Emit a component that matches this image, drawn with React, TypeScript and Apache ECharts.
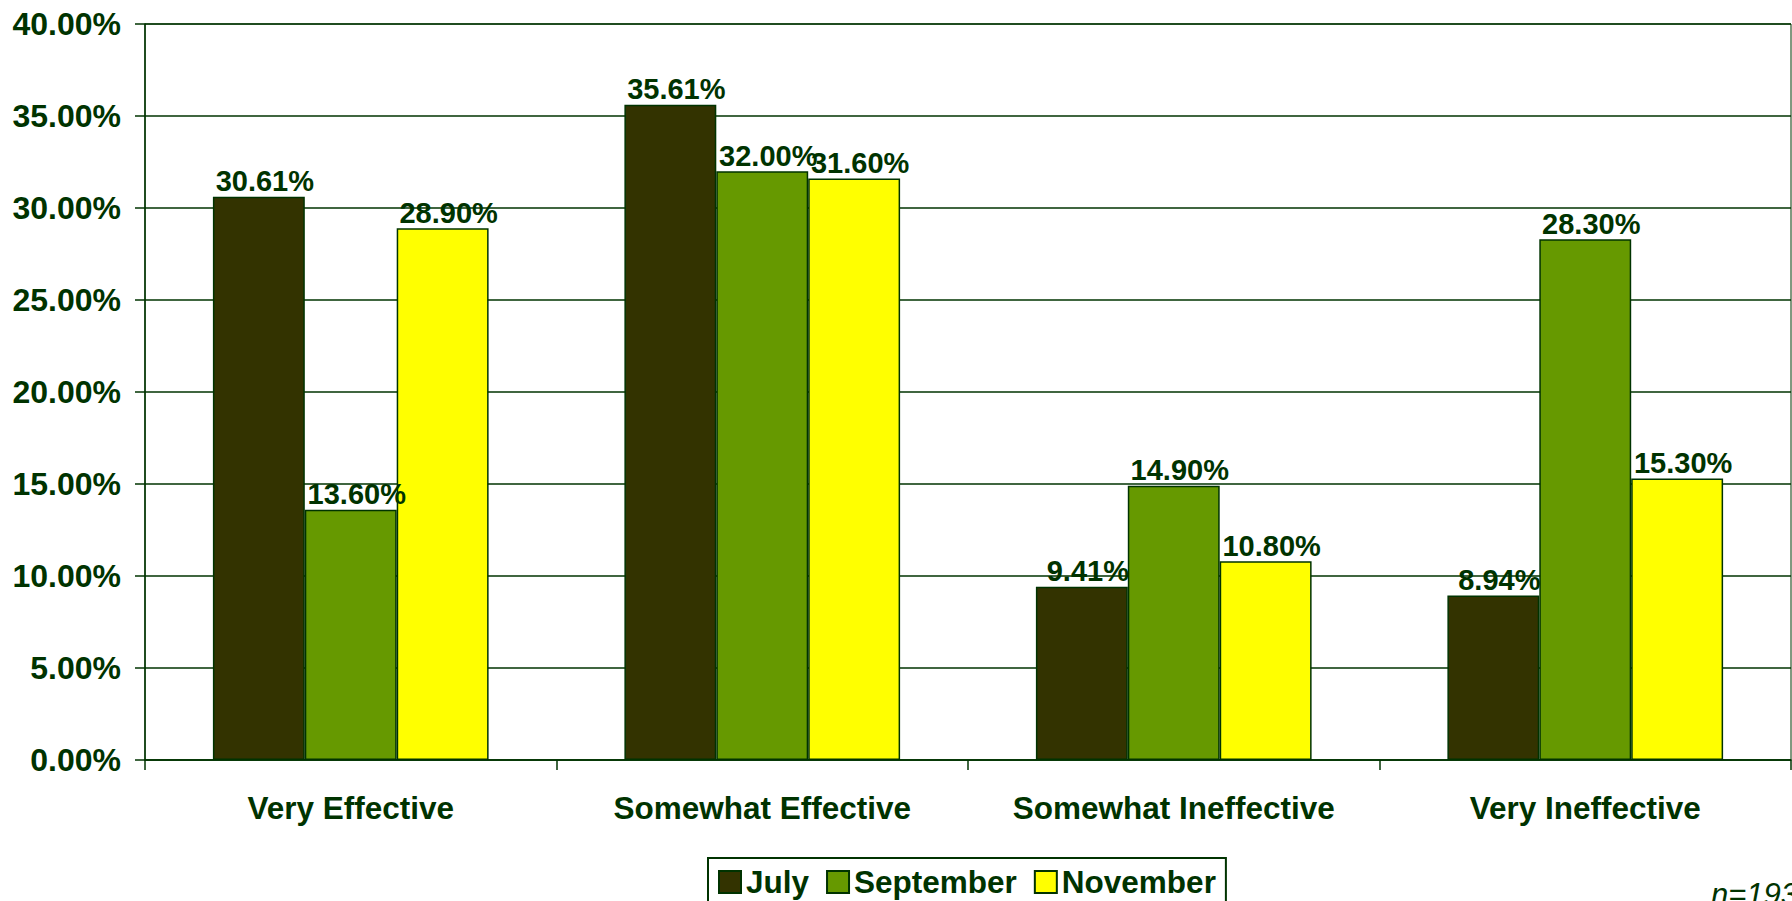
import React, { useEffect, useRef } from "react";
import * as echarts from "echarts";

const categories = ["Very Effective", "Somewhat Effective", "Somewhat Ineffective", "Very Ineffective"];
const july = [30.61, 35.61, 9.41, 8.94];
const september = [13.6, 32.0, 14.9, 28.3];
const november = [28.9, 31.6, 10.8, 15.3];
const seriesNames = ["July", "September", "November"];
const seriesColors = ["#333300", "#669900", "#FFFF00"];
const yTicks = { min: 0, max: 40, interval: 5 };
const note = "n=193";

const TEXT = "#003300";
const FONT = "'Liberation Sans', Arial, Helvetica, sans-serif";

export default function App() {
  const ref = useRef<HTMLDivElement>(null);
  useEffect(() => {
    if (!ref.current) return;
    const chart = echarts.init(ref.current, undefined, { renderer: "svg" });
    const data = [july, september, november];
    chart.setOption({
      animation: false,
      backgroundColor: "#ffffff",
      textStyle: { fontFamily: FONT },
      grid: {
        left: 145,
        right: 1,
        top: 24,
        bottom: 141,
        show: true,
        borderColor: TEXT,
        borderWidth: 1,
        containLabel: false,
      },
      legend: {
        left: 708,
        top: 858,
        orient: "horizontal",
        padding: [8, 10, 10, 10],
        borderColor: TEXT,
        borderWidth: 2,
        itemWidth: 22,
        itemHeight: 22,
        itemGap: 17,
        icon: "rect",
        textStyle: { color: TEXT, fontSize: 31.5, fontWeight: "bold", fontFamily: FONT },
        data: seriesNames,
      },
      xAxis: {
        type: "category",
        data: categories,
        axisLine: { show: true, lineStyle: { color: TEXT, width: 1.5 } },
        axisTick: { show: true, length: 10, lineStyle: { color: TEXT, width: 1.5 } },
        axisLabel: {
          color: TEXT,
          fontSize: 31.5,
          fontWeight: "bold",
          fontFamily: FONT,
          margin: 32,
          interval: 0,
        },
        splitLine: { show: false },
      },
      yAxis: {
        type: "value",
        min: yTicks.min,
        max: yTicks.max,
        interval: yTicks.interval,
        axisLine: { show: true, lineStyle: { color: TEXT, width: 1.5 } },
        axisTick: { show: true, length: 10, lineStyle: { color: TEXT, width: 1.5 } },
        axisLabel: {
          color: TEXT,
          fontSize: 32,
          fontWeight: "bold",
          fontFamily: FONT,
          margin: 24,
          formatter: (v: number) => v.toFixed(2) + "%",
        },
        splitLine: { show: true, lineStyle: { color: TEXT, width: 1.5 } },
      },
      series: seriesNames.map((name, i) => ({
        name,
        type: "bar",
        data: data[i],
        barGap: "0%",
        barCategoryGap: "33%",
        itemStyle: { color: seriesColors[i], borderColor: TEXT, borderWidth: 1.5 },
        label: {
          show: true,
          position: "top",
          distance: 1,
          offset: [6, 0],
          color: TEXT,
          fontSize: 29,
          fontWeight: "bold",
          fontFamily: FONT,
          formatter: (p: any) => Number(p.value).toFixed(2) + "%",
        },
      })),
      graphic: [
        {
          type: "text",
          left: 1711,
          top: 879,
          style: {
            text: note,
            fill: TEXT,
            font: `italic 31px ${FONT}`,
          },
        },
      ],
    });
    return () => chart.dispose();
  }, []);
  return (
    <div
      ref={ref}
      style={{ position: "fixed", left: 0, top: 0, width: 1792, height: 901 }}
    />
  );
}
